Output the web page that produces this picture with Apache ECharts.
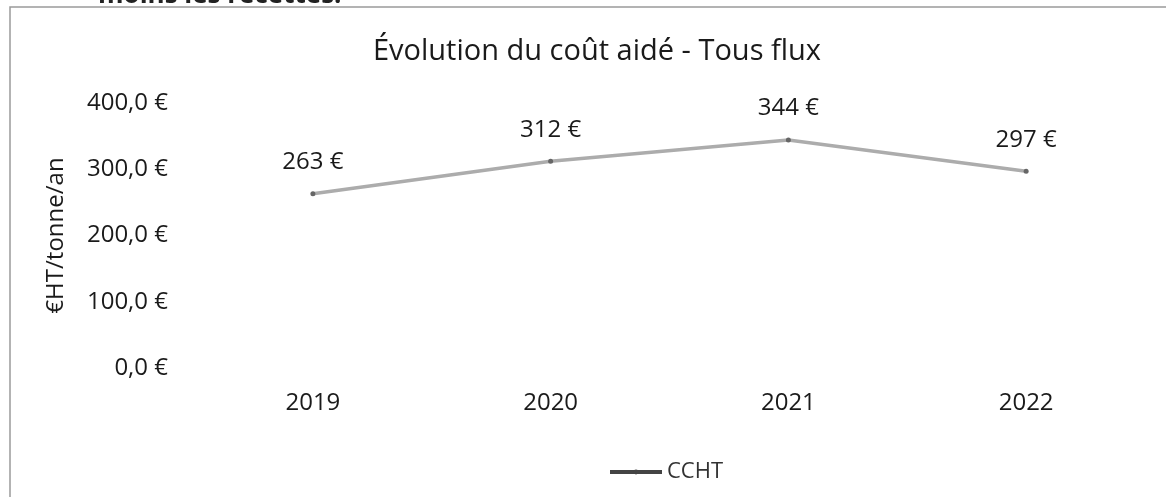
<!DOCTYPE html>
<html>
<head>
<meta charset="utf-8">
<script src="https://cdn.jsdelivr.net/npm/echarts@6/dist/echarts.min.js"></script>
<style>
  html, body { margin: 0; padding: 0; background: #fff; }
  #chart { width: 1166px; height: 497px; }
</style>
</head>
<body>
<div id="chart"></div>
<script>
// données
const years = ['2019', '2020', '2021', '2022'];
const ccht = [263, 312, 344, 297];
const yTicks = [0, 100, 200, 300, 400];

const font = '"Open Sans", "Noto Sans", sans-serif';

const chart = echarts.init(document.getElementById('chart'));
chart.setOption({
  backgroundColor: '#fff',
  animation: false,
  title: {
    text: 'Évolution du coût aidé - Tous flux',
    left: 592,
    textAlign: 'center',
    top: 32,
    textStyle: { fontFamily: font, fontSize: 29, fontWeight: 'normal', color: '#1a1a1a' }
  },
  graphic: [
    {
      type: 'rect',
      shape: { x: 10, y: 7, width: 1200, height: 600 },
      style: { fill: 'none', stroke: '#9a9a9a', lineWidth: 1.5 },
      silent: true
    },
    {
      type: 'text',
      x: 98, y: -17,
      style: { text: 'moins les recettes.', font: 'bold 26px ' + font, fill: '#222' },
      silent: true
    }
  ],
  legend: {
    data: ['CCHT'],
    left: 603,
    top: 456,
    itemWidth: 52,
    itemHeight: 6,
    itemGap: 5,
    textStyle: { fontFamily: font, fontSize: 22, color: '#333' },
    lineStyle: { color: '#444', width: 4 },
    itemStyle: { color: '#444' }
  },
  grid: { left: 194, right: 21, top: 103, bottom: 129 },
  xAxis: {
    type: 'category',
    data: years,
    axisLine: { show: false },
    axisTick: { show: false },
    axisLabel: { fontFamily: font, fontSize: 24, color: '#1a1a1a', margin: 23 }
  },
  yAxis: {
    type: 'value',
    min: yTicks[0],
    max: yTicks[yTicks.length - 1],
    interval: 100,
    name: '€HT/tonne/an',
    nameLocation: 'middle',
    nameGap: 126,
    nameTextStyle: { fontFamily: font, fontSize: 24, color: '#1a1a1a' },
    splitLine: { show: false },
    axisLabel: {
      fontFamily: font, fontSize: 24, color: '#1a1a1a', margin: 26,
      formatter: v => v.toFixed(1).replace('.', ',') + ' €'
    }
  },
  series: [{
    name: 'CCHT',
    type: 'line',
    data: ccht,
    symbol: 'circle',
    symbolSize: 5,
    lineStyle: { color: '#acacac', width: 3.5 },
    itemStyle: { color: '#666' },
    label: {
      show: true,
      position: 'top',
      distance: 17,
      fontFamily: font, fontSize: 24, color: '#1a1a1a',
      formatter: p => p.value + ' €'
    }
  }]
});
</script>
</body>
</html>
